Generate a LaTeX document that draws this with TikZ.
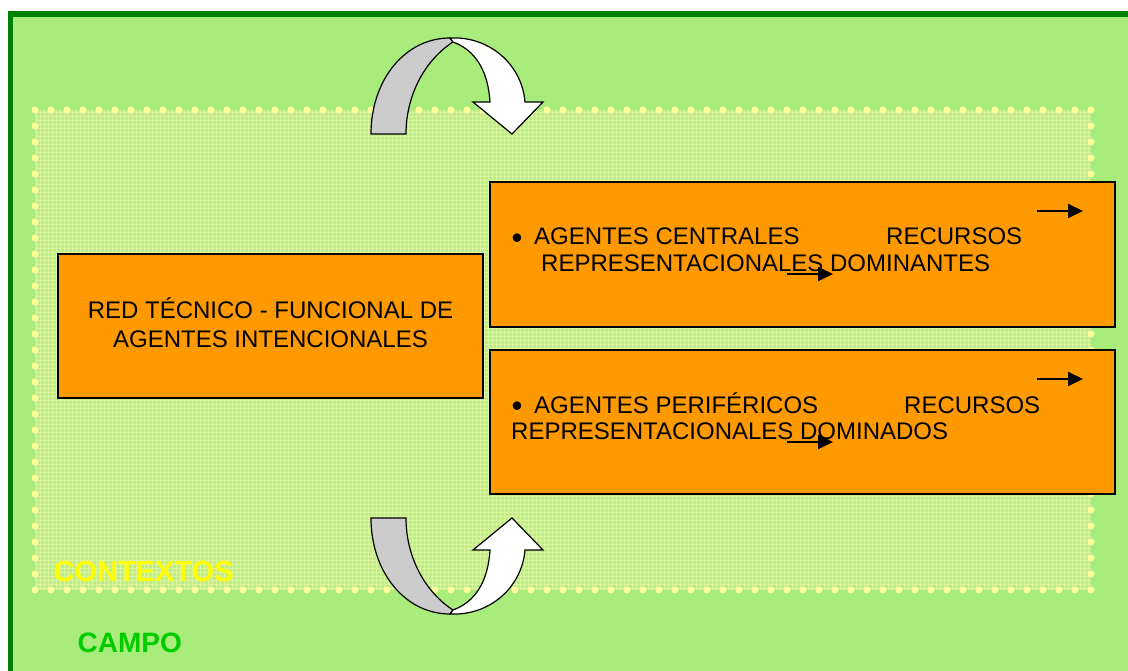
\documentclass[tikz,border=0pt]{standalone}
\usepackage{fontspec}
\setmainfont{Liberation Sans}
\usetikzlibrary{arrows.meta}
\definecolor{campo}{HTML}{A8EC7C}
\definecolor{marco}{HTML}{008000}
\definecolor{contexto}{HTML}{BCEE88}
\definecolor{rejilla}{HTML}{DAF59E}
\definecolor{puntos}{HTML}{FFFF99}
\definecolor{naranja}{HTML}{FF9900}
\definecolor{gris}{HTML}{CCCCCC}
\definecolor{verdecampo}{HTML}{00CC00}
\definecolor{amarillo}{HTML}{FFFF00}
\newcommand{\vineta}{\raisebox{-4pt}{\scalebox{1.3}{\textbullet}}}
\tikzset{
  caja/.style={draw=black, line width=1.5pt, fill=naranja, inner sep=0pt},
  texto/.style={font=\fontsize{24}{28}\selectfont, inner sep=0pt, anchor=base west},
  flecha/.style={line width=2pt, -{Triangle[length=15pt,width=14pt]}},
  cinta/.style={draw=black, line width=1.2pt},
  puntos/.style={draw=puntos, line width=7pt, line cap=round, dash pattern=on 0pt off 16pt},
}
\begin{document}
\begin{tikzpicture}[x=1pt,y=-1pt]
                \useasboundingbox (0,0) rectangle (1128,671);
                \fill[white] (0,0) rectangle (1128,671);
                % campo
                \draw[draw=marco, fill=campo, line width=5.5pt] (10.5,14) rectangle (1160,700);
                % contextos
                \fill[contexto] (35,110) rectangle (1091,590);
                \draw[rejilla, line width=0.8pt, step=4pt] (35,110) grid (1091,590);
                \draw[puntos] (35,110) rectangle (1091,590);
                \node[anchor=base west, inner sep=0pt, text=amarillo, font=\fontsize{29}{34}\selectfont\bfseries] (contextos) at (53.5,581) {CONTEXTOS};
                \node[anchor=base west, inner sep=0pt, text=verdecampo, font=\fontsize{28}{33}\selectfont\bfseries] (campo) at (77.5,652) {CAMPO};
                % cajas
                \node[caja, minimum width=425pt, minimum height=144pt] (red) at (270.5,326) {};
                \node[caja, minimum width=625pt, minimum height=145pt] (centrales) at (802.5,254.5) {};
                \node[caja, minimum width=625pt, minimum height=144pt] (perifericos) at (802.5,422) {};
                \node[texto, anchor=base] (red1) at (270.5,319) {RED TÉCNICO - FUNCIONAL DE};
                \node[texto, anchor=base] (red2) at (270.5,347) {AGENTES INTENCIONALES};
                \node[texto] (bul1) at (511.5,245) {\vineta};
                \node[texto] (cen1) at (534,245) {AGENTES CENTRALES};
                \node[texto] (cen2) at (886,245) {RECURSOS};
                \node[texto] (cen3) at (541,272) {REPRESENTACIONALES DOMINANTES};
                \node[texto] (bul2) at (511.5,413) {\vineta};
                \node[texto] (per1) at (534,413) {AGENTES PERIFÉRICOS};
                \node[texto] (per2) at (904,413) {RECURSOS};
                \node[texto] (per3) at (511,439) {REPRESENTACIONALES DOMINADOS};
                \foreach \n/\xa/\xb/\y in {1/1037/1083/211, 2/787/833/274, 3/1037/1083/379, 4/787/833/442}{
                    \coordinate (ini\n) at (\xa,\y);
                    \coordinate (fin\n) at (\xb,\y);
                    \draw[flecha] (ini\n) -- (fin\n);
                }
                % flechas curvas
                \foreach \oy/\sy in {134/1, 518/-1}{
                    \begin{scope}[shift={(371,\oy)}, yscale=\sy]
                        \filldraw[cinta, fill=gris] (0,0) .. controls (0,-54) and (34,-96) .. (79,-96) -- (82,-92)
                            .. controls (54,-74) and (35,-39) .. (35,0) -- cycle;
                        \filldraw[cinta, fill=white] (79,-96) .. controls (119,-98) and (151,-69) .. (154,-32)
                            -- (172,-32) -- (141,0) -- (102,-32) -- (119,-32)
                            .. controls (117,-64) and (104,-84) .. (82,-92) -- cycle;
                    \end{scope}
                }
            \end{tikzpicture}
\end{document}
